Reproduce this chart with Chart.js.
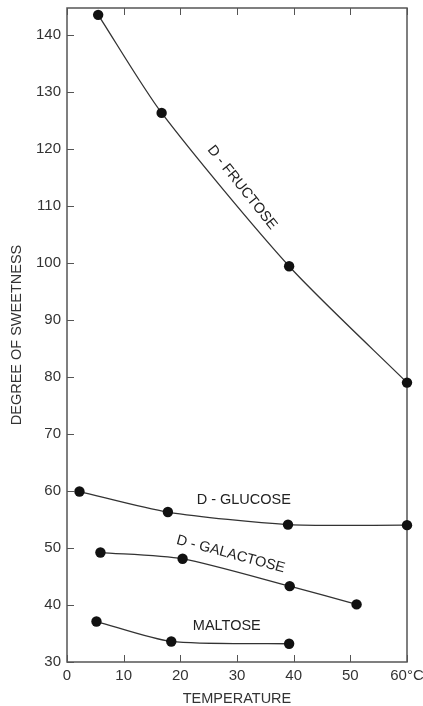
<!DOCTYPE html>
<html>
<head>
<meta charset="utf-8">
<script src="https://cdn.jsdelivr.net/npm/chart.js@4.4.1/dist/chart.umd.min.js"></script>
<style>
  body { margin: 0; background: #fff; }
  #wrap { width: 423px; height: 706px; }
</style>
</head>
<body>
<div id="wrap"><canvas id="sweetness"></canvas></div>
<script>
// temperature (°C) / degree of sweetness
const fructoseX = [5.5, 16.7, 39.2, 60];
const fructoseY = [143.5, 126.3, 99.4, 79.0];
const glucoseX = [2.2, 17.8, 39.0, 60];
const glucoseY = [59.9, 56.3, 54.1, 54.0];
const galactoseX = [5.9, 20.4, 39.3, 51.1];
const galactoseY = [49.2, 48.1, 43.3, 40.1];
const maltoseX = [5.2, 18.4, 39.2];
const maltoseY = [37.1, 33.6, 33.2];

const xTicks = [0, 10, 20, 30, 40, 50, 60];
const xTickLabels = ['0', '10', '20', '30', '40', '50', '60°C'];
const yTicks = [30, 40, 50, 60, 70, 80, 90, 100, 110, 120, 130, 140];

// curve names, placed in data coordinates
const curveLabels = [
  { text: 'D - FRUCTOSE', x: 30.9, y: 113.2, angle: 51.5 },
  { text: 'D - GLUCOSE', x: 31.2, y: 58.4, angle: 0 },
  { text: 'D - GALACTOSE', x: 28.9, y: 48.9, angle: 15 },
  { text: 'MALTOSE', x: 28.2, y: 36.3, angle: 0 }
];

const FONT = '"Liberation Sans", Arial, sans-serif';
const INK = '#333';

function toPoints(xs, ys) {
  return xs.map((x, i) => ({ x: x, y: ys[i] }));
}

function series(xs, ys) {
  return {
    data: toPoints(xs, ys),
    borderColor: INK,
    borderWidth: 1.3,
    pointRadius: 5.2,
    pointBackgroundColor: '#111',
    pointBorderWidth: 0,
    tension: 0.25,
    clip: false
  };
}

const frameTicks = {
  id: 'frameTicks',
  beforeDatasetsDraw(chart) {
    const { ctx, chartArea: a, scales } = chart;
    ctx.save();
    ctx.strokeStyle = '#555';
    ctx.lineWidth = 1.5;
    ctx.strokeRect(a.left, a.top, a.right - a.left, a.bottom - a.top);
    ctx.lineWidth = 1;
    ctx.beginPath();
    xTicks.forEach(v => {
      const px = Math.round(scales.x.getPixelForValue(v)) + 0.5;
      ctx.moveTo(px, a.bottom); ctx.lineTo(px, a.bottom - 7);
      ctx.moveTo(px, a.top); ctx.lineTo(px, a.top + 7);
    });
    yTicks.forEach(v => {
      const py = Math.round(scales.y.getPixelForValue(v)) + 0.5;
      ctx.moveTo(a.left, py); ctx.lineTo(a.left + 7, py);
    });
    ctx.stroke();
    ctx.restore();
  },
  afterDatasetsDraw(chart) {
    const { ctx, scales } = chart;
    ctx.save();
    ctx.fillStyle = '#222';
    ctx.font = '14.5px ' + FONT;
    ctx.textAlign = 'center';
    ctx.textBaseline = 'middle';
    curveLabels.forEach(l => {
      ctx.save();
      ctx.translate(scales.x.getPixelForValue(l.x), scales.y.getPixelForValue(l.y));
      ctx.rotate(l.angle * Math.PI / 180);
      ctx.fillText(l.text, 0, 0);
      ctx.restore();
    });
    ctx.restore();
  }
};

document.addEventListener('DOMContentLoaded', function() {
  const ctx = document.getElementById('sweetness');

  new Chart(ctx, {
    type: 'line',
    data: {
      datasets: [
        series(fructoseX, fructoseY),
        series(glucoseX, glucoseY),
        series(galactoseX, galactoseY),
        series(maltoseX, maltoseY)
      ]
    },
    plugins: [frameTicks],
    options: {
      responsive: true,
      maintainAspectRatio: false,
      animation: false,
      layout: { padding: { left: 0, right: 16, top: 8, bottom: 0 } },
      plugins: { legend: { display: false }, tooltip: { enabled: false } },
      scales: {
        x: {
          type: 'linear',
          min: 0,
          max: 60,
          afterFit: s => { s.height = 44; s.paddingLeft = 0; s.paddingRight = 0; },
          afterBuildTicks: s => { s.ticks = xTicks.map(v => ({ value: v })); },
          grid: { display: false, drawTicks: false },
          border: { display: false },
          ticks: {
            padding: 5,
            color: INK,
            font: { family: FONT, size: 15 },
            callback: v => xTickLabels[xTicks.indexOf(v)]
          },
          title: {
            display: true,
            text: 'TEMPERATURE',
            color: INK,
            font: { family: FONT, size: 14.5, lineHeight: 1 },
            padding: { top: 0, bottom: 0 }
          }
        },
        y: {
          type: 'linear',
          min: 30,
          max: 144.7,
          afterFit: s => { s.width = 67; s.paddingTop = 0; s.paddingBottom = 0; },
          afterBuildTicks: s => { s.ticks = yTicks.map(v => ({ value: v })); },
          grid: { display: false, drawTicks: false },
          border: { display: false },
          ticks: {
            padding: 6,
            color: INK,
            font: { family: FONT, size: 15 }
          },
          title: {
            display: true,
            text: 'DEGREE OF SWEETNESS',
            color: INK,
            font: { family: FONT, size: 14.5 },
            padding: { top: 8, bottom: 0 }
          }
        }
      }
    }
  });
});
</script>
</body>
</html>
